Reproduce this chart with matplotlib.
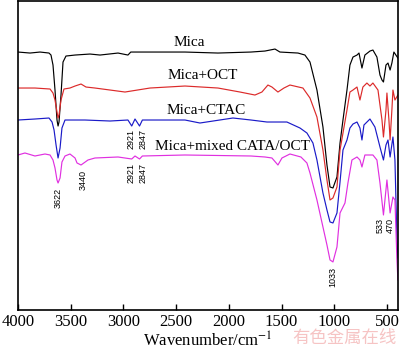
import matplotlib
matplotlib.use("Agg")
import matplotlib.pyplot as plt

plt.rcParams['font.family'] = ['Liberation Serif', 'DejaVu Serif']
plt.rcParams['mathtext.fontset'] = 'stix'

# FTIR spectra (wavenumber in cm-1, transmittance in arbitrary units)
mica_wn = [4000, 3886, 3791, 3706, 3687, 3668, 3649, 3630, 3620, 3611, 3592, 3573, 3545,
           3459, 3317, 3222, 3051, 2957, 2930, 2748, 2416, 2103, 1790, 1657, 1562, 1515,
           1344, 1278, 1230, 1164, 1107, 1069, 1040, 1012, 974, 945, 917, 879, 851, 822,
           784, 765, 737, 709, 661, 633, 595, 566, 547, 533, 509, 490, 470, 453, 434, 415, 396]
mica_t = [258, 257, 258, 257, 255, 245, 220, 190, 184, 188, 215, 248, 254,
          255, 256, 255, 257, 255, 258, 258, 258, 257, 258, 259, 261, 258,
          257, 255, 248, 220, 183, 145, 123, 122, 133, 167, 190, 220, 245, 253,
          255, 257, 242, 255, 259, 260, 253, 235, 230, 228, 245, 247, 240, 247, 258, 255, 252]

oct_wn = [4000, 3839, 3696, 3668, 3649, 3630, 3620, 3611, 3592, 3564, 3507, 3459, 3402,
          3355, 3270, 3127, 2985, 2748, 2416, 2103, 1894, 1752, 1686, 1629, 1591, 1534,
          1477, 1420, 1297, 1230, 1164, 1107, 1069, 1040, 1012, 974, 945, 917, 879, 851,
          822, 784, 756, 728, 690, 661, 633, 585, 547, 533, 509, 500, 481, 470, 453, 443,
          424, 396]
oct_t = [222, 222, 221, 217, 210, 198, 192, 195, 210, 221, 222, 224, 226,
         223, 222, 220, 218, 222, 224, 222, 218, 215, 218, 225, 223, 218,
         222, 225, 222, 212, 193, 160, 130, 110, 112, 123, 160, 177, 200, 218,
         220, 223, 210, 223, 227, 224, 227, 220, 190, 173, 200, 217, 190, 170, 200, 220,
         210, 215]

ctac_wn = [4000, 3839, 3706, 3677, 3658, 3639, 3620, 3601, 3583, 3554, 3365, 3127, 2957,
           2921, 2890, 2847, 2820, 2416, 2274, 1961, 1790, 1638, 1449, 1325, 1259, 1202,
           1164, 1107, 1069, 1040, 1012, 974, 945, 917, 879, 851, 822, 784, 756, 737, 718,
           661, 614, 566, 533, 509, 490, 470, 443, 424, 405, 396]
ctac_t = [190, 191, 192, 188, 180, 165, 152, 162, 182, 190, 190, 189, 190,
          184, 191, 184, 190, 190, 187, 192, 190, 188, 188, 182, 177, 167,
          150, 117, 100, 88, 87, 97, 128, 160, 170, 182, 186, 188, 182, 170, 185,
          191, 183, 163, 150, 165, 170, 153, 173, 150, 70, 52]

mix_wn = [4000, 3934, 3839, 3744, 3696, 3668, 3649, 3630, 3620, 3601, 3583, 3554, 3507,
          3459, 3440, 3402, 3336, 3270, 3051, 2921, 2890, 2847, 2820, 2416, 1790, 1657,
          1591, 1534, 1496, 1420, 1316, 1259, 1230, 1164, 1107, 1069, 1040, 1012, 974,
          945, 898, 870, 832, 784, 756, 737, 709, 633, 595, 566, 533, 500, 470, 443,
          424, 405, 396]
mix_t = [155, 157, 154, 156, 155, 150, 142, 130, 127, 132, 148, 154, 156,
         152, 147, 145, 150, 152, 153, 151, 154, 151, 154, 155, 154, 153,
         152, 145, 152, 156, 153, 147, 137, 110, 83, 65, 50, 48, 63,
         97, 107, 127, 150, 153, 150, 143, 155, 155, 150, 127, 95, 130, 97, 113,
         110, 50, 30]

series_names = ['Mica', 'Mica+OCT', 'Mica+CTAC', 'Mica+mixed CATA/OCT']
series_colors = ['#000000', '#dc2a2a', '#1a1ac8', '#e030e0']

fig = plt.figure(figsize=(4.0, 3.53), dpi=100)
ax = fig.add_axes([0.045, 0.122, 0.95, 0.875])

for wn, t, c in zip([mica_wn, oct_wn, ctac_wn, mix_wn],
                    [mica_t, oct_t, ctac_t, mix_t], series_colors):
    ax.plot(wn, t, color=c, lw=0.85)

# curve names
ax.text(2378, 268, series_names[0], ha='center', va='center', fontsize=11)
ax.text(2250, 235, series_names[1], ha='center', va='center', fontsize=11)
ax.text(2217, 200, series_names[2], ha='center', va='center', fontsize=11)
ax.text(1961, 164, series_names[3], ha='center', va='center', fontsize=11)

# peak labels
peak_font = dict(rotation=90, ha='center', va='center', fontsize=6.5,
                 family=['Liberation Sans', 'DejaVu Sans'])
ax.text(3615, 112, '3622', **peak_font)
ax.text(3385, 130, '3440', **peak_font)
ax.text(2928, 171, '2921', **peak_font)
ax.text(2814, 171, '2847', **peak_font)
ax.text(2928, 137, '2921', **peak_font)
ax.text(2814, 137, '2847', **peak_font)
ax.text(1012, 33, '1033', **peak_font)
ax.text(566, 84, '533', **peak_font)
ax.text(472, 84, '470', **peak_font)

ax.set_xlim(4000, 395)
ax.set_ylim(0, 309)
ax.set_xticks([4000, 3500, 3000, 2500, 2000, 1500, 1000, 500])
ax.set_yticks([])
ax.tick_params(axis='x', direction='in', length=4, width=1, labelsize=12, pad=3)
for s in ax.spines.values():
    s.set_linewidth(1.2)
ax.set_xlabel('Wavenumber/cm$^{-1}$', fontsize=12, labelpad=1)

# watermark of the source site
fig.text(0.862, 0.042, '有色金属在线', ha='center', va='center', fontsize=12.5,
         color='#f6c4c4', family=['Noto Sans CJK SC', 'DejaVu Sans'])

fig.savefig('out.png', dpi=100)
